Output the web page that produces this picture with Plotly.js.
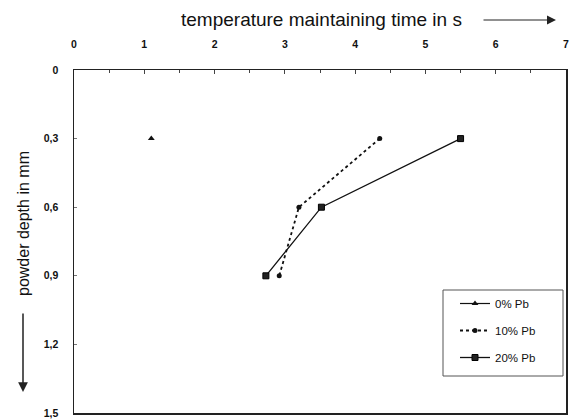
<!DOCTYPE html>
<html>
<head>
<meta charset="utf-8">
<script src="https://cdn.plot.ly/plotly-3.0.1.min.js"></script>
<style>html,body{margin:0;padding:0;background:#fff;}#chart{width:571px;height:419px;}</style>
</head>
<body>
<div id="chart"></div>
<script>
// Data
const seriesNames = ["0% Pb", "10% Pb", "20% Pb"];
const depth0 = [0.3];
const time0 = [1.1];
const depth10 = [0.3, 0.6, 0.9];
const time10 = [4.35, 3.2, 2.92];
const depth20 = [0.3, 0.6, 0.9];
const time20 = [5.5, 3.52, 2.73];
const xTickVals = [0, 1, 2, 3, 4, 5, 6, 7];
const yTickVals = [0, 0.3, 0.6, 0.9, 1.2, 1.5];
const yTickText = ["0", "0,3", "0,6", "0,9", "1,2", "1,5"];

const traces = [
  {x: time0, y: depth0, name: seriesNames[0], mode: "lines+markers", legendgroup: "a",
   line: {color: "#111", width: 1.2}, marker: {symbol: "triangle-up", size: 6, color: "#111"}},
  {x: time10, y: depth10, name: seriesNames[1], mode: "lines+markers", legendgroup: "b",
   line: {color: "#111", width: 1.8, dash: "dot"}, marker: {symbol: "circle", size: 5, color: "#111"}},
  {x: time20, y: depth20, name: seriesNames[2], mode: "lines+markers", legendgroup: "c",
   line: {color: "#111", width: 1.3}, marker: {symbol: "square", size: 6, color: "#222", line: {color: "#000", width: 1}}}
];

const px = v => (v - 74) / 492;
const py = v => (413 - v) / 343;

const layout = {
  width: 571, height: 419,
  margin: {l: 74, r: 5, t: 70, b: 6},
  paper_bgcolor: "#fff", plot_bgcolor: "#fff",
  font: {family: "Liberation Sans, Arial, sans-serif", color: "#111"},
  showlegend: true,
  legend: {x: px(455), y: py(289), xanchor: "left", yanchor: "top",
           borderwidth: 0, bgcolor: "rgba(0,0,0,0)",
           font: {size: 11.5, color: "#111"}, tracegroupgap: 8, traceorder: "grouped"},
  shapes: [
    {type: "rect", xref: "paper", yref: "paper", x0: px(443), x1: px(563), y0: py(376), y1: py(290),
     line: {color: "#555", width: 1}, fillcolor: "rgba(0,0,0,0)", layer: "above"}
  ],
  xaxis: {side: "top", range: [0, 7], tickvals: xTickVals, showgrid: false, zeroline: false,
          showline: true, linecolor: "#222", linewidth: 1.5, mirror: true,
          ticks: "inside", ticklen: 4, tickcolor: "#444",
          minor: {dtick: 0.5, ticks: "inside", ticklen: 3, tickcolor: "#444"},
          tickfont: {size: 10.5, color: "#111", weight: "bold"}, ticklabelstandoff: 16},
  yaxis: {range: [1.5, 0], tickvals: yTickVals, ticktext: yTickText, showgrid: false, zeroline: false,
          showline: true, linecolor: "#222", linewidth: 1.5, mirror: true,
          ticks: "inside", ticklen: 3, tickcolor: "#777",
          tickfont: {size: 10.5, color: "#111", weight: "bold"}, ticklabelstandoff: 12},
  annotations: [
    {text: "temperature maintaining time in s", xref: "paper", yref: "paper",
     x: px(321), y: py(20), xanchor: "center", yanchor: "middle",
     showarrow: false, font: {size: 19, color: "#111"}},
    {text: "", xref: "paper", yref: "paper", x: px(556), y: py(20),
     showarrow: true, ax: -74, ay: 0, arrowhead: 2, arrowsize: 1.8, arrowwidth: 1, arrowcolor: "#222"},
    {text: "powder depth in mm", xref: "paper", yref: "paper",
     x: px(23), y: py(224), xanchor: "center", yanchor: "middle", textangle: -90,
     showarrow: false, font: {size: 16, color: "#111"}},
    {text: "", xref: "paper", yref: "paper", x: px(23), y: py(392),
     showarrow: true, ax: 0, ay: -80, arrowhead: 2, arrowsize: 1.3, arrowwidth: 1.5, arrowcolor: "#222"}
  ]
};

Plotly.newPlot("chart", traces, layout, {displayModeBar: false, staticPlot: true});
</script>
</body>
</html>
